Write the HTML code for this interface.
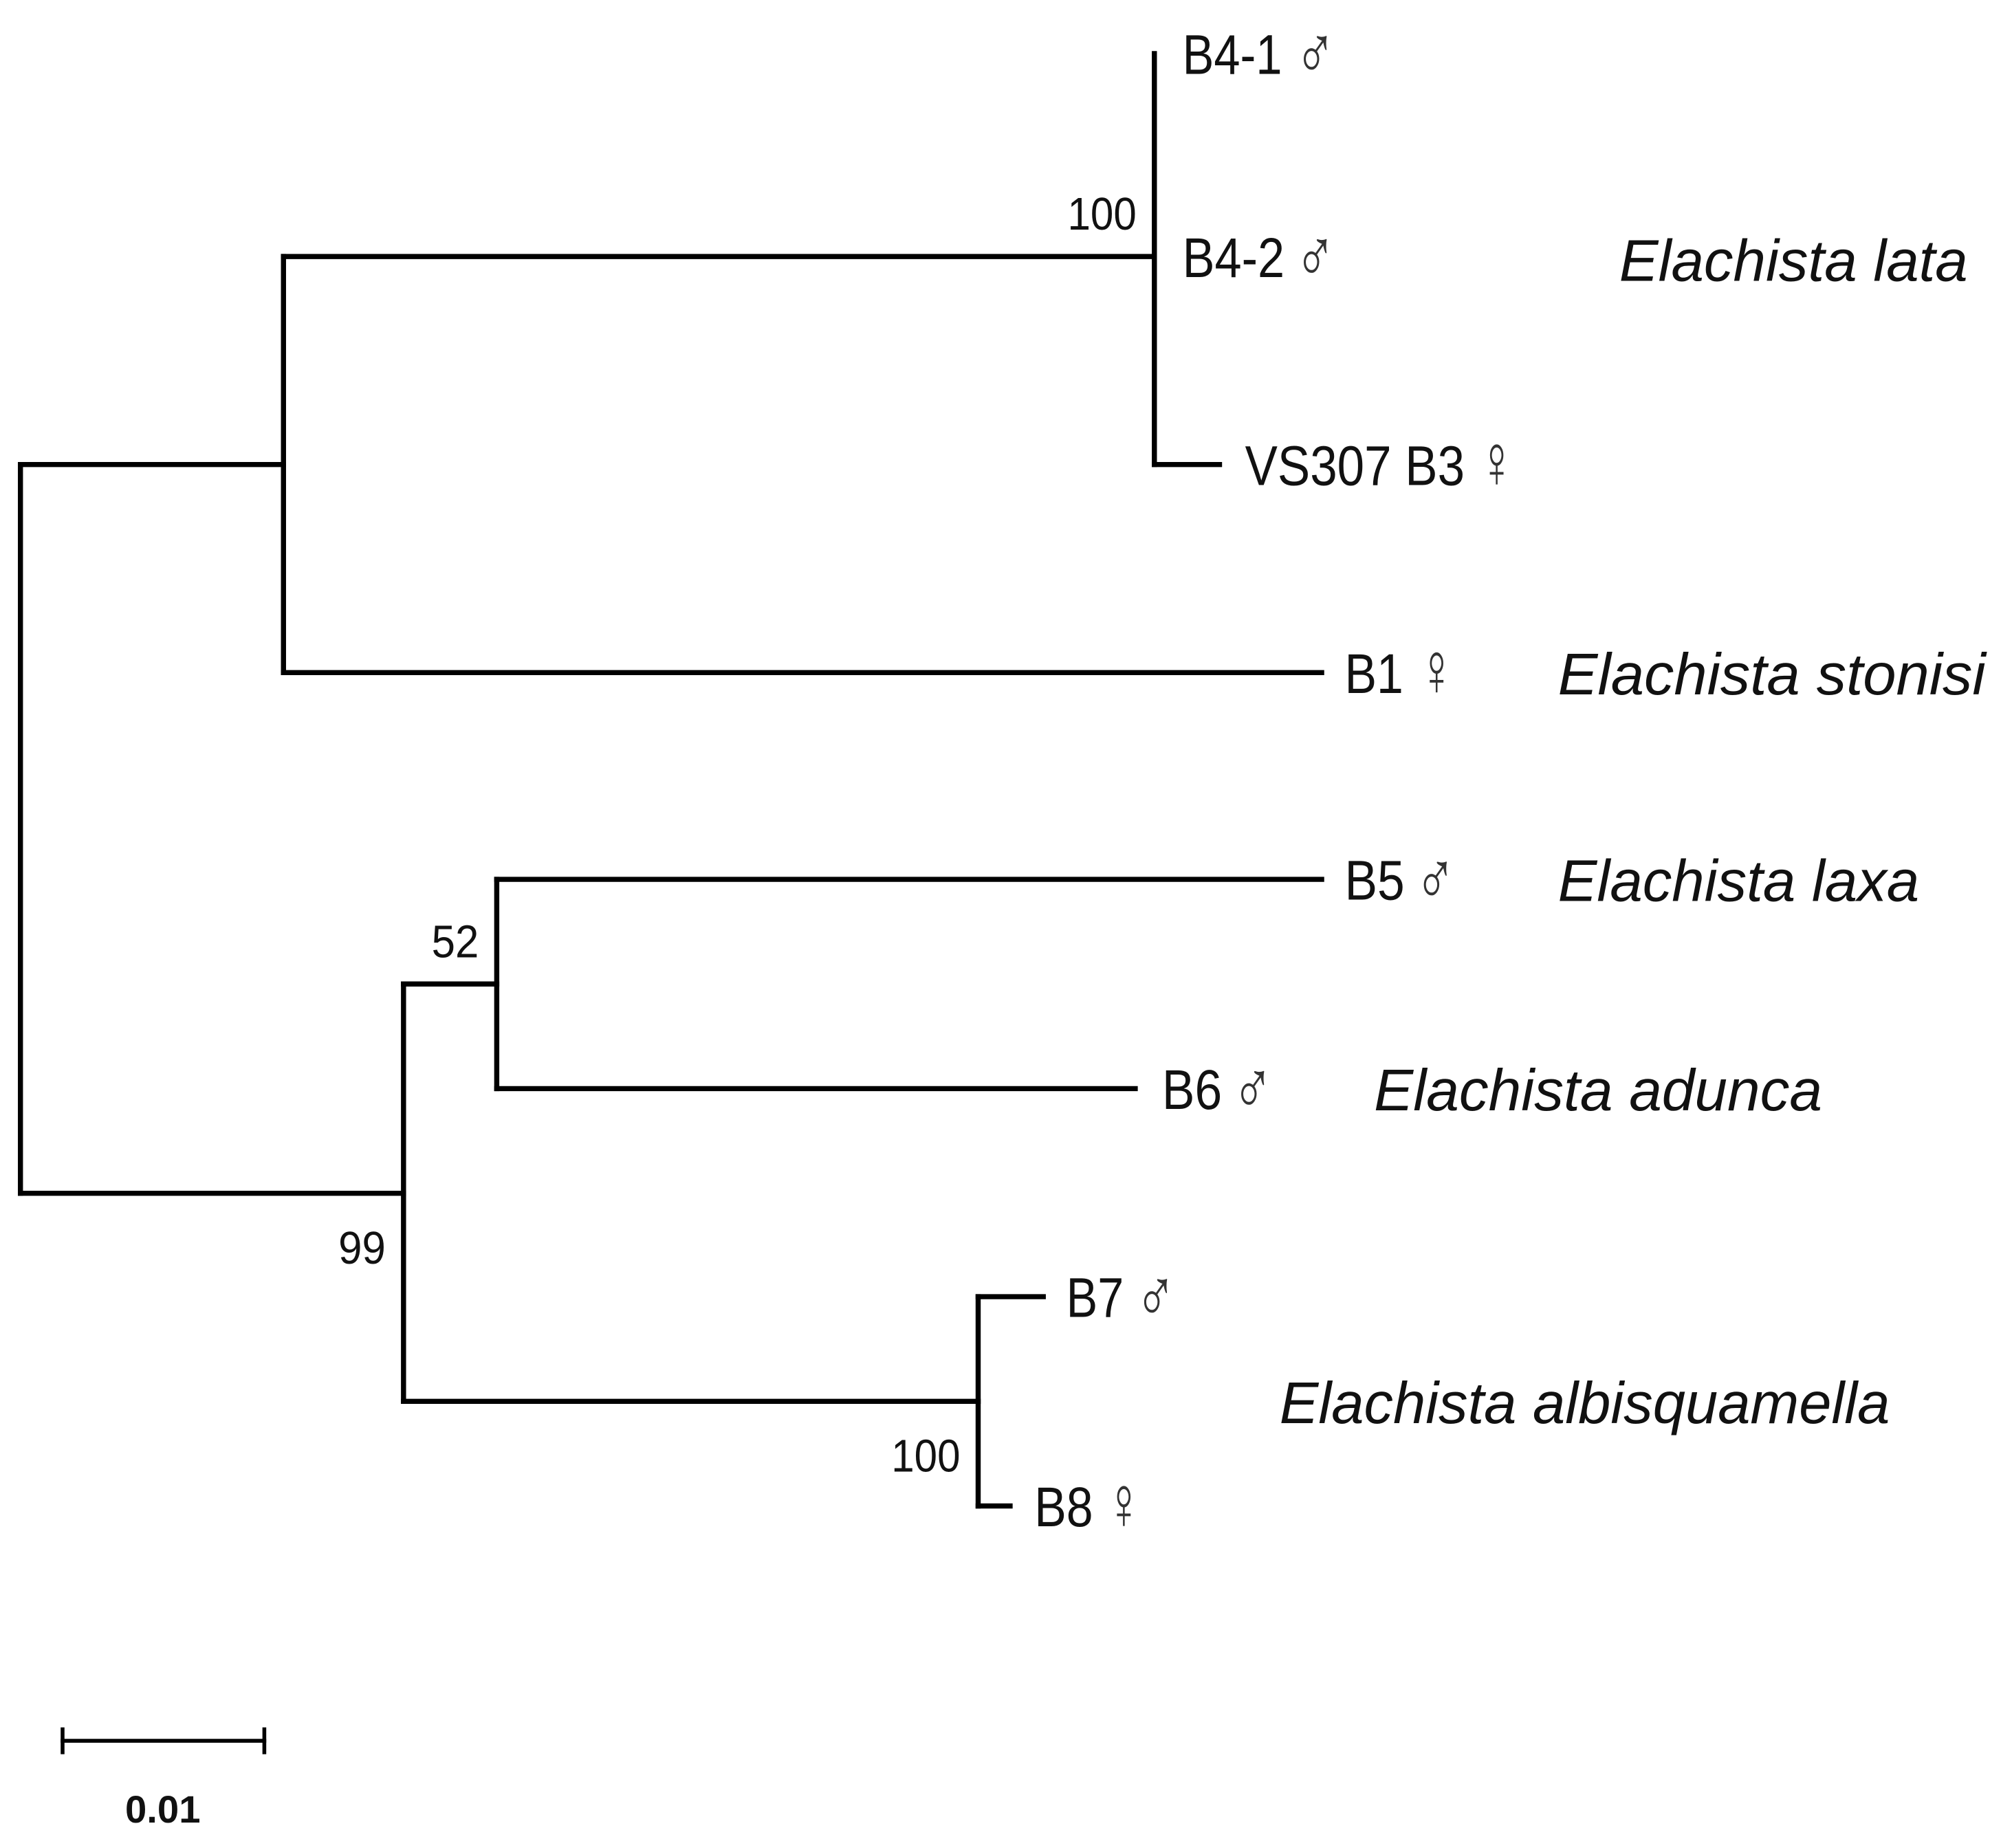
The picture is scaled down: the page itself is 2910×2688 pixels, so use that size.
<!DOCTYPE html>
<html><head><meta charset="utf-8"><style>
html,body{margin:0;padding:0;background:#fff;}
svg{display:block;}
text{font-family:"Liberation Sans","DejaVu Sans",sans-serif;fill:#111;}
.l{font-size:44px;}
.g{font-size:60px;fill:#333;font-family:"DejaVu Sans",sans-serif;font-weight:200;}
.s{font-size:46px;font-style:italic;}
.b{font-size:36px;}
</style></head><body>
<svg width="2910" height="2688" viewBox="0 0 1567 1448" preserveAspectRatio="none" xmlns="http://www.w3.org/2000/svg">
<g stroke="#000" stroke-width="4" fill="none" stroke-linecap="square">
<line x1="16" y1="364" x2="16" y2="935"/>
<line x1="16" y1="364" x2="222" y2="364"/>
<line x1="222" y1="201" x2="222" y2="527"/>
<line x1="222" y1="201" x2="904" y2="201"/>
<line x1="904" y1="42" x2="904" y2="364"/>
<line x1="904" y1="364" x2="955" y2="364"/>
<line x1="222" y1="527" x2="1035" y2="527"/>
<line x1="16" y1="935" x2="316" y2="935"/>
<line x1="316" y1="771" x2="316" y2="1098"/>
<line x1="316" y1="771" x2="389" y2="771"/>
<line x1="389" y1="689" x2="389" y2="853"/>
<line x1="389" y1="689" x2="1035" y2="689"/>
<line x1="389" y1="853" x2="889" y2="853"/>
<line x1="316" y1="1098" x2="766" y2="1098"/>
<line x1="766" y1="1016" x2="766" y2="1180"/>
<line x1="766" y1="1016" x2="817" y2="1016"/>
<line x1="766" y1="1180" x2="791" y2="1180"/>
<line x1="49" y1="1364" x2="207" y2="1364" stroke-width="3"/>
<line x1="49" y1="1355" x2="49" y2="1373" stroke-width="3"/>
<line x1="207" y1="1355" x2="207" y2="1373" stroke-width="3"/>
</g>
<text class="l" x="926" y="58" textLength="78" lengthAdjust="spacingAndGlyphs">B4-1</text>
<text class="g" x="1014" y="62" textLength="32" lengthAdjust="spacingAndGlyphs">♂</text>
<text class="l" x="926" y="217" textLength="80" lengthAdjust="spacingAndGlyphs">B4-2</text>
<text class="g" x="1014" y="221" textLength="32" lengthAdjust="spacingAndGlyphs">♂</text>
<text class="l" x="975" y="380" textLength="172" lengthAdjust="spacingAndGlyphs">VS307 B3</text>
<text class="g" x="1158" y="382" textLength="28" lengthAdjust="spacingAndGlyphs">♀</text>
<text class="l" x="1053" y="543" textLength="46" lengthAdjust="spacingAndGlyphs">B1</text>
<text class="g" x="1111" y="545" textLength="28" lengthAdjust="spacingAndGlyphs">♀</text>
<text class="l" x="1053" y="705" textLength="47" lengthAdjust="spacingAndGlyphs">B5</text>
<text class="g" x="1108" y="709" textLength="32" lengthAdjust="spacingAndGlyphs">♂</text>
<text class="l" x="910" y="869" textLength="47" lengthAdjust="spacingAndGlyphs">B6</text>
<text class="g" x="965" y="873" textLength="32" lengthAdjust="spacingAndGlyphs">♂</text>
<text class="l" x="835" y="1032" textLength="45" lengthAdjust="spacingAndGlyphs">B7</text>
<text class="g" x="889" y="1036" textLength="32" lengthAdjust="spacingAndGlyphs">♂</text>
<text class="l" x="810" y="1196" textLength="46" lengthAdjust="spacingAndGlyphs">B8</text>
<text class="g" x="866" y="1198" textLength="28" lengthAdjust="spacingAndGlyphs">♀</text>
<text class="s" x="1268" y="220" textLength="273" lengthAdjust="spacingAndGlyphs">Elachista lata</text>
<text class="s" x="1220" y="544" textLength="335" lengthAdjust="spacingAndGlyphs">Elachista stonisi</text>
<text class="s" x="1220" y="706" textLength="283" lengthAdjust="spacingAndGlyphs">Elachista laxa</text>
<text class="s" x="1076" y="870" textLength="351" lengthAdjust="spacingAndGlyphs">Elachista adunca</text>
<text class="s" x="1002" y="1115" textLength="478" lengthAdjust="spacingAndGlyphs">Elachista albisquamella</text>
<text class="b" x="836" y="180" textLength="54" lengthAdjust="spacingAndGlyphs">100</text>
<text class="b" x="338" y="750" textLength="37" lengthAdjust="spacingAndGlyphs">52</text>
<text class="b" x="265" y="990" textLength="37" lengthAdjust="spacingAndGlyphs">99</text>
<text class="b" x="698" y="1153" textLength="54" lengthAdjust="spacingAndGlyphs">100</text>
<text x="98" y="1428" style="font-size:30px;font-weight:bold" textLength="59" lengthAdjust="spacingAndGlyphs">0.01</text>
</svg>
</body></html>
